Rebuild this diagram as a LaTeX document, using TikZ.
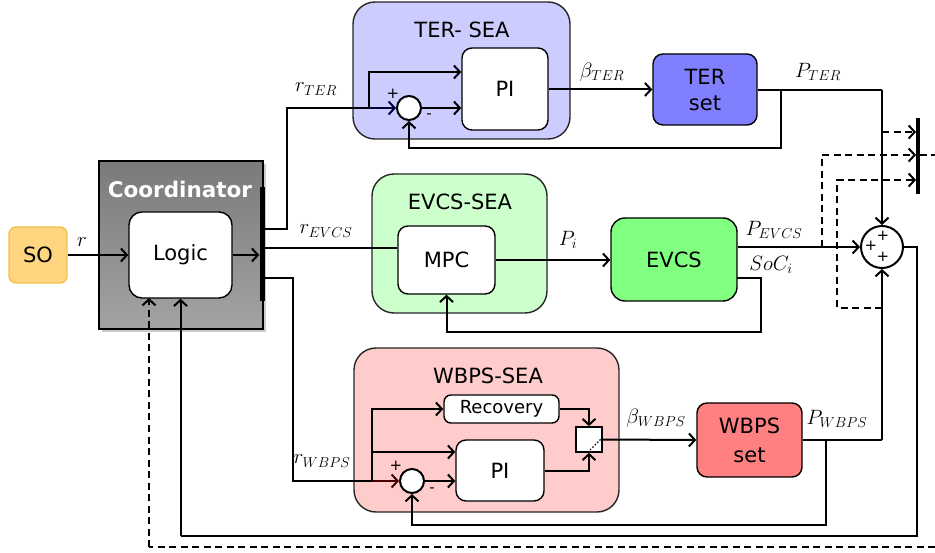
\documentclass[tikz,border=0pt]{standalone}
\usepackage{fontspec}
\setmainfont{DejaVu Sans}
\usetikzlibrary{arrows.meta,shadows,calc}
\definecolor{terbg}{HTML}{CCCCFF}
\definecolor{terfg}{HTML}{8080FF}
\definecolor{evbg}{HTML}{CCFFCC}
\definecolor{evfg}{HTML}{80FF80}
\definecolor{wbbg}{HTML}{FFCCCC}
\definecolor{wbfg}{HTML}{FF8080}
\definecolor{sofill}{HTML}{FFD580}
\definecolor{sodraw}{HTML}{F2C14E}
\begin{document}
\begin{tikzpicture}[x=1pt,y=-1pt,
  wire/.style={line width=2pt},
  arr/.style={wire,-{Straight Barb[length=6pt,width=13pt,line width=2pt]}},
  dsh/.style={wire,dash pattern=on 7pt off 4.5pt},
  darr/.style={dsh,-{Straight Barb[length=6pt,width=13pt,line width=2pt]}},
  box/.style={draw=black,line width=1.4pt,rounded corners=10pt,inner sep=0pt,align=center,font=\fontsize{21}{26}\selectfont},
  sea/.style={draw=black!85,line width=1.4pt,rounded corners=22pt,inner sep=0pt},
  title/.style={inner sep=0pt,font=\fontsize{21}{24}\selectfont},
  sumc/.style={circle,draw,line width=2pt,fill=white,minimum size=24pt,inner sep=0pt},
  lbl/.style={inner sep=0pt,font=\fontsize{22}{22}\selectfont},
  pm/.style={inner sep=0pt,font=\fontsize{15}{15}\selectfont}]
\useasboundingbox (0,0) rectangle (935,553);

% ---- background blocks
\node[sea,fill=terbg,minimum width=217pt,minimum height=137pt] (terSEA) at (461.5,70.5) {};
\node[sea,fill=evbg,minimum width=175pt,minimum height=139pt] (evSEA) at (459.5,243.5) {};
\node[sea,fill=wbbg,minimum width=265pt,minimum height=164pt] (wbSEA) at (486.5,430) {};
\node[title] (terT) at (462,30) {TER- SEA};
\node[title] (evT) at (460,202) {EVCS-SEA};
\node[title] (wbT) at (488,376) {WBPS-SEA};

% ---- coordinator
\node[draw=black,line width=1.4pt,top color=black!52,bottom color=black!36,
  drop shadow={shadow xshift=3pt,shadow yshift=-3pt,opacity=0.4},
  minimum width=164pt,minimum height=168pt,inner sep=0pt] (coord) at (181,245) {};
\node[inner sep=0pt,text=white,font=\bfseries\fontsize{21.5}{24}\selectfont] (coordT) at (180,189) {Coordinator};
\node[box,fill=white,rounded corners=13pt,minimum width=103pt,minimum height=86pt] (logic) at (180.5,255) {Logic};
\node[fill=black,inner sep=0pt,minimum width=5pt,minimum height=114pt] (bus) at (262,244) {};
\node[box,draw=sodraw,fill=sofill,rounded corners=7pt,minimum width=58pt,minimum height=56pt] (so) at (38,255) {SO};

% ---- TER
\node[box,fill=white,minimum width=86pt,minimum height=82pt] (pi1) at (505,89) {PI};
\node[sumc] (sum1) at (409,108) {};
\node[box,fill=terfg,minimum width=104pt,minimum height=71pt] (terset) at (705,89.5) {TER\\set};

% ---- EVCS
\node[box,fill=white,minimum width=97pt,minimum height=68pt] (mpc) at (446.5,260) {MPC};
\node[box,fill=evfg,rounded corners=14pt,minimum width=126pt,minimum height=83pt] (evcs) at (674,259.5) {EVCS};

% ---- WBPS
\node[box,fill=white,rounded corners=7pt,minimum width=115pt,minimum height=28pt,font=\fontsize{18}{20}\selectfont] (rec) at (501.5,409) {Recovery};
\node[box,fill=white,minimum width=88pt,minimum height=61pt] (pi2) at (500,470.5) {PI};
\node[sumc] (sum2) at (412,481) {};
\node[draw,fill=white,line width=1.7pt,inner sep=0pt,minimum width=26pt,minimum height=25pt] (sw) at (589,439.5) {};
\node[box,fill=wbfg,font=\fontsize{21}{29}\selectfont,minimum width=105pt,minimum height=74pt] (wbset) at (749.5,440) {WBPS\\set};

% ---- summing junction and right bar
\node[sumc,minimum size=42pt] (sumB) at (882,247) {};
\node[fill=black,inner sep=0pt,minimum width=3.5pt,minimum height=76pt] (rbar) at (918,156) {};

% ---- coordinates
\coordinate (ta) at (262,229);
\coordinate (tb) at (287,229);
\coordinate (ea) at (262,248);
\coordinate (wa) at (262,278);
\coordinate (wb) at (293,278);
\coordinate (t1) at (369,108);
\coordinate (t2) at (781,90);
\coordinate (t3) at (781,148);
\coordinate (t4) at (882,90);
\coordinate (e1) at (737,278);
\coordinate (e2) at (761,332);
\coordinate (w1) at (372,481);
\coordinate (w2) at (588,409);
\coordinate (w3) at (588,471);
\coordinate (w4) at (826,440);
\coordinate (w5) at (826,525);
\coordinate (w6) at (882,440);
\coordinate (f1) at (917,247);
\coordinate (f2) at (917,536);
\coordinate (f3) at (180.5,536);
\coordinate (d0) at (935,547);
\coordinate (d1) at (149,547);
\coordinate (d2) at (149,298);
\coordinate (q1) at (882,132);
\coordinate (q2) at (822,247);
\coordinate (q3) at (822,155);
\coordinate (q4) at (882,308);
\coordinate (q5) at (837,308);
\coordinate (q6) at (837,180);
\coordinate (q7) at (935,155);

% ---- wires: coordinator
\draw[arr] (so.east) -- (logic.west);
\draw[arr] (logic.east) -- (bus.west |- logic.east);
\node[lbl] (rL) at (82,242) {$r$};

% TER
\draw[wire] (ta) -- (tb) |- (t1);
\draw[arr,draw=black!60!blue!60!black] (t1) -- (sum1.west);
\draw[arr] (t1) |- (pi1.west |- 0,72);
\draw[arr] (sum1.east) -- (pi1.west |- sum1.east);
\draw[arr] (pi1.east |- terset.west) -- (terset.west);
\draw[wire] (terset.east |- t2) -- (t4);
\draw[arr] (t4) -- (sumB.north);
\draw[arr] (t2) -- (t3) -| (sum1.south);
\node[pm] (p1a) at (393,94) {+};
\node[pm] (p1b) at (429,116) {-};
\node[lbl] (lrter) at (316,89) {$r_{TER}$};
\node[lbl] (lbter) at (602,72) {$\beta_{TER}$};
\node[lbl] (lpter) at (818,72) {$P_{TER}$};

% EVCS
\draw[wire] (ea) -- (mpc.west |- ea);
\draw[arr] (mpc.east) -- (evcs.west |- mpc.east);
\draw[arr] (evcs.east |- sumB.west) -- (sumB.west);
\draw[arr] (e1) -| (e2) -| (mpc.south);
\node[lbl] (lrev) at (326,231) {$r_{EVCS}$};
\node[lbl] (lpi) at (568,240) {$P_i$};
\node[lbl] (lpev) at (774,230) {$P_{EVCS}$};
\node[lbl] (lsoc) at (771,265) {$SoC_i$};

% WBPS
\draw[wire] (wa) -- (wb) |- (w1);
\draw[arr,draw=black!60!red!70!black] (w1) -- (sum2.west);
\draw[arr] (w1) |- (rec.west);
\draw[arr] (w1) |- (pi2.west |- 0,452);
\draw[arr] (sum2.east) -- (pi2.west |- sum2.east);
\draw[arr] (rec.east) -| (sw.north);
\draw[arr] (pi2.east |- w3) -| (sw.south);
\draw[arr] (sw.east) -- (wbset.west);
\draw[wire] (wbset.east) -- (w6);
\draw[arr] (w6) -- (sumB.south);
\draw[arr] (w4) -- (w5) -| (sum2.south);
\draw[line width=1.4pt,dotted] (590,450) -- (601,439);
\node[pm] (p2a) at (396,466) {+};
\node[pm] (p2b) at (432,490) {-};
\node[lbl] (lrwb) at (322,461) {$r_{WBPS}$};
\node[lbl] (lbwb) at (656,418) {$\beta_{WBPS}$};
\node[lbl] (lpwb) at (837,419) {$P_{WBPS}$};

% summing junction signs
\node[pm] (s1) at (883,236) {+};
\node[pm] (s2) at (871,246) {+};
\node[pm] (s3) at (883,257) {+};

% feedback to coordinator
\draw[wire] (sumB.east) -- (f1) -- (f2) -- (f3);
\draw[arr] (f3) -- (logic.south);
\draw[dsh] (d0) -- (d1);
\draw[darr] (d1) -- (d2);

% dashed to right bar
\draw[darr] (q1) -- (rbar.west |- q1);
\draw[darr] (q2) -- (q3) -- (rbar.west |- q3);
\draw[dsh] (rbar.east |- q3) -- (q7);
\draw[darr] (q4) -- (q5) -- (q6) -- (rbar.west |- q6);
\end{tikzpicture}
\end{document}
